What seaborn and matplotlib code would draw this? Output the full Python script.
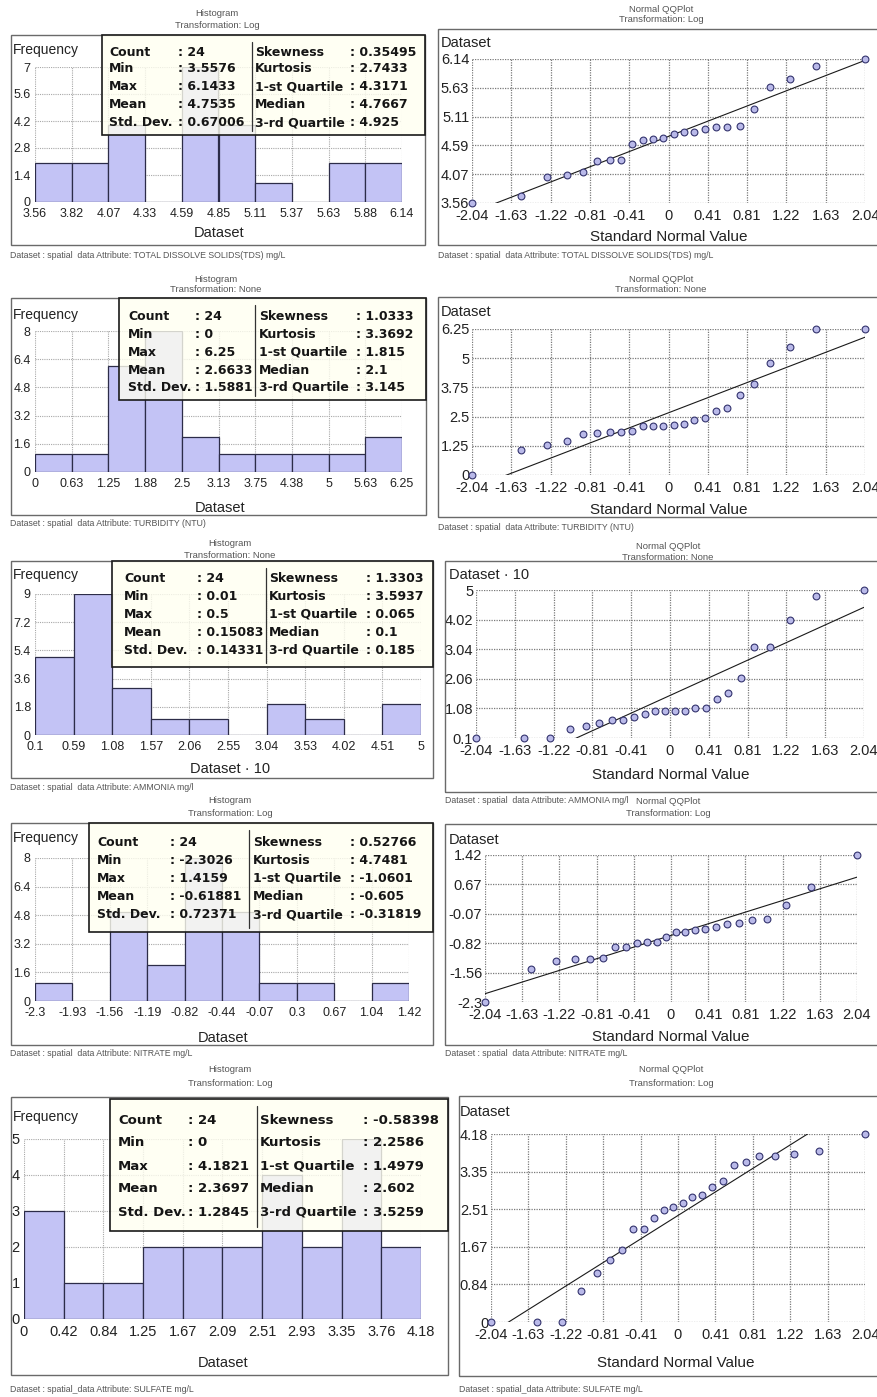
import numpy as np
import matplotlib
matplotlib.use("Agg")
import matplotlib.pyplot as plt
from matplotlib.patches import Rectangle
from matplotlib.lines import Line2D
import seaborn as sns

sns.set_style("white")
plt.rcParams['font.family'] = ['DejaVu Sans']

W, H = 878, 1397

# ---------------- data ----------------
z_quantiles = [-2.037, -1.534, -1.259, -1.054, -0.887, -0.742, -0.611, -0.489, -0.374, -0.264, -0.157, -0.052,
               0.052, 0.157, 0.264, 0.374, 0.489, 0.611, 0.742, 0.887, 1.054, 1.259, 1.534, 2.037]

tds_log = [3.5576, 3.68, 4.02, 4.056, 4.116, 4.309, 4.325, 4.325, 4.623, 4.689, 4.707, 4.725,
           4.797, 4.838, 4.838, 4.892, 4.916, 4.916, 4.934, 5.245, 5.639, 5.776, 6.009, 6.1433]
turbidity = [0.0, 1.056, 1.284, 1.47, 1.755, 1.80, 1.83, 1.84, 1.90, 2.08, 2.08, 2.08,
             2.12, 2.17, 2.35, 2.45, 2.74, 2.88, 3.41, 3.91, 4.78, 5.47, 6.24, 6.25]
ammonia_x10 = [0.1, 0.1, 0.1, 0.4, 0.5, 0.6, 0.7, 0.7, 0.8, 0.9, 1.0, 1.0,
               1.0, 1.0, 1.1, 1.1, 1.4, 1.6, 2.1, 3.1, 3.1, 4.0, 4.8, 5.0]
nitrate_log = [-2.3026, -1.458, -1.256, -1.223, -1.206, -1.197, -0.923, -0.903, -0.810, -0.793, -0.793, -0.67,
               -0.541, -0.532, -0.490, -0.465, -0.406, -0.34, -0.296, -0.238, -0.212, 0.141, 0.596, 1.4159]
sulfate_log = [0.0, 0.0, 0.0, 0.6931, 1.0986, 1.3863, 1.6094, 2.0794, 2.0794, 2.3026, 2.4849, 2.5649,
               2.6391, 2.7726, 2.8332, 2.9957, 3.1355, 3.4965, 3.5553, 3.6889, 3.6889, 3.7377, 3.8067, 4.1821]

datasets = [tds_log, turbidity, ammonia_x10, nitrate_log, sulfate_log]
data_min = [3.5576, 0.0, 0.1, -2.3026, 0.0]
data_max = [6.1433, 6.25, 5.0, 1.4159, 4.1821]
line_mean = [4.7535, 2.6633, 1.5083, -0.61881, 2.3697]
line_sd = [0.67006, 1.5881, 1.4331, 0.72371, 1.2845]
hist_ymax = [7, 8, 9, 8, 5]

hist_xticklabels = [
    ['3.56', '3.82', '4.07', '4.33', '4.59', '4.85', '5.11', '5.37', '5.63', '5.88', '6.14'],
    ['0', '0.63', '1.25', '1.88', '2.5', '3.13', '3.75', '4.38', '5', '5.63', '6.25'],
    ['0.1', '0.59', '1.08', '1.57', '2.06', '2.55', '3.04', '3.53', '4.02', '4.51', '5'],
    ['-2.3', '-1.93', '-1.56', '-1.19', '-0.82', '-0.44', '-0.07', '0.3', '0.67', '1.04', '1.42'],
    ['0', '0.42', '0.84', '1.25', '1.67', '2.09', '2.51', '2.93', '3.35', '3.76', '4.18'],
]
hist_yticklabels = [
    ['0', '1.4', '2.8', '4.2', '5.6', '7'],
    ['0', '1.6', '3.2', '4.8', '6.4', '8'],
    ['0', '1.8', '3.6', '5.4', '7.2', '9'],
    ['0', '1.6', '3.2', '4.8', '6.4', '8'],
    ['0', '1', '2', '3', '4', '5'],
]
qq_xticklabels = ['-2.04', '-1.63', '-1.22', '-0.81', '-0.41', '0', '0.41', '0.81', '1.22', '1.63', '2.04']
qq_yticklabels = [
    ['3.56', '4.07', '4.59', '5.11', '5.63', '6.14'],
    ['0', '1.25', '2.5', '3.75', '5', '6.25'],
    ['0.1', '1.08', '2.06', '3.04', '4.02', '5'],
    ['-2.3', '-1.56', '-0.82', '-0.07', '0.67', '1.42'],
    ['0', '0.84', '1.67', '2.51', '3.35', '4.18'],
]
transformations = ['Log', 'None', 'None', 'Log', 'Log']
value_axis_labels = ['Dataset', 'Dataset', 'Dataset \u00b7 10', 'Dataset', 'Dataset']
captions = [
    'Dataset : spatial  data Attribute: TOTAL DISSOLVE SOLIDS(TDS) mg/L',
    'Dataset : spatial  data Attribute: TURBIDITY (NTU)',
    'Dataset : spatial  data Attribute: AMMONIA mg/l',
    'Dataset : spatial  data Attribute: NITRATE mg/L',
    'Dataset : spatial_data Attribute: SULFATE mg/L',
]
stat_names_left = ['Count', 'Min', 'Max', 'Mean', 'Std. Dev.']
stat_names_right = ['Skewness', 'Kurtosis', '1-st Quartile', 'Median', '3-rd Quartile']
stat_values_left = [
    ['24', '3.5576', '6.1433', '4.7535', '0.67006'],
    ['24', '0', '6.25', '2.6633', '1.5881'],
    ['24', '0.01', '0.5', '0.15083', '0.14331'],
    ['24', '-2.3026', '1.4159', '-0.61881', '0.72371'],
    ['24', '0', '4.1821', '2.3697', '1.2845'],
]
stat_values_right = [
    ['0.35495', '2.7433', '4.3171', '4.7667', '4.925'],
    ['1.0333', '3.3692', '1.815', '2.1', '3.145'],
    ['1.3303', '3.5937', '0.065', '0.1', '0.185'],
    ['0.52766', '4.7481', '-1.0601', '-0.605', '-0.31819'],
    ['-0.58398', '2.2586', '1.4979', '2.602', '3.5259'],
]

# ---------------- layout (pixels) ----------------
hist_layout = [
    dict(frame=(11, 35, 425, 245), ax=(35, 67, 402, 202), freq=(13, 50), xlab=(219, 233), title=(217, 14, 25),
         cap=(10, 255), box=(102, 35, 425, 135), cols=(109, 178, 252, 255, 350), rows=[52, 69, 87, 104, 123], fs=9,
         tfs=9),
    dict(frame=(11, 298, 426, 515), ax=(35, 331, 402, 472), freq=(13, 315), xlab=(220, 508), title=(216, 280, 290),
         cap=(10, 524), box=(119, 298, 426, 400), cols=(128, 195, 255, 259, 356), rows=[317, 335, 352, 370, 387],
         fs=9, tfs=9),
    dict(frame=(11, 561, 433, 778), ax=(35, 594, 421, 735), freq=(13, 575), xlab=(230, 769), title=(230, 544, 555),
         cap=(10, 788), box=(112, 561, 433, 667), cols=(124, 197, 266, 269, 366), rows=[578, 597, 614, 632, 650],
         fs=9, tfs=9),
    dict(frame=(11, 823, 433, 1045), ax=(35, 858, 409, 1001), freq=(13, 838), xlab=(223, 1038),
         title=(230, 800, 813), cap=(10, 1054), box=(89, 823, 433, 932), cols=(97, 170, 249, 253, 350),
         rows=[842, 860, 878, 897, 915], fs=9, tfs=9),
    dict(frame=(11, 1097, 448, 1375), ax=(24, 1139, 421, 1319), freq=(13, 1117), xlab=(223, 1363),
         title=(230, 1070, 1084), cap=(10, 1390), box=(110, 1099, 448, 1231), cols=(118, 188, 257, 260, 363),
         rows=[1120, 1143, 1166, 1189, 1212], fs=9.5, tfs=10.5),
]
qq_layout = [
    dict(frame=(438, 29, 890, 245), ax=(472, 59, 865, 203), ylab=(441, 43), xlab=(669, 237), title=(661, 9, 20),
         cap=(438, 255)),
    dict(frame=(438, 297, 890, 517), ax=(472, 329, 865, 475), ylab=(441, 312), xlab=(669, 510),
         title=(661, 280, 290), cap=(438, 527)),
    dict(frame=(445, 561, 890, 792), ax=(476, 590, 864, 738), ylab=(449, 575), xlab=(671, 775),
         title=(668, 547, 558), cap=(445, 800)),
    dict(frame=(445, 824, 890, 1045), ax=(485, 855, 857, 1002), ylab=(449, 840), xlab=(671, 1037),
         title=(668, 802, 813), cap=(445, 1054)),
    dict(frame=(459, 1096, 890, 1376), ax=(491, 1134, 865, 1322), ylab=(460, 1112), xlab=(676, 1363),
         title=(671, 1069, 1083), cap=(459, 1390)),
]

BAR = '#c3c3f5'
BAR_EDGE = '#2c2c48'
PT = '#b9b9e9'
PT_EDGE = '#34346e'
GRID = '#a8a8a8'
QGRID = '#7a7a7a'
TXT = '#222222'
GRAY = '#555555'
FRAME = '#6a6a6a'
TF = 'Liberation Sans'

fig = plt.figure(figsize=(W / 100, H / 100), dpi=100)
fig.patch.set_facecolor('white')


def add_ax(x0, y0, x1, y1):
    return fig.add_axes([x0 / W, 1 - y1 / H, (x1 - x0) / W, (y1 - y0) / H])


def ftext(x, y, s, **kw):
    return fig.text(x / W, 1 - y / H, s, **kw)


def frame(x0, y0, x1, y1, **kw):
    r = Rectangle((x0 / W, 1 - y1 / H), (x1 - x0) / W, (y1 - y0) / H, transform=fig.transFigure, **kw)
    fig.add_artist(r)
    return r


def vline(x, y0, y1, **kw):
    fig.add_artist(Line2D([x / W, x / W], [1 - y0 / H, 1 - y1 / H], transform=fig.transFigure, **kw))


for i in range(5):
    data = datasets[i]
    lo, hi = data_min[i], data_max[i]
    # ---------------- Histogram ----------------
    L = hist_layout[i]
    frame(*L['frame'], fill=False, edgecolor=FRAME, lw=1.0, zorder=0.5)
    ax = add_ax(*L['ax'])
    sns.histplot(x=data, bins=10, binrange=(lo, hi), ax=ax, color=BAR, edgecolor=BAR_EDGE,
                 linewidth=0.9, alpha=1.0, zorder=2)
    ax.set_xlim(lo, hi)
    ax.set_ylim(0, hist_ymax[i])
    ax.set_xticks(np.linspace(lo, hi, 11))
    ax.set_xticklabels(hist_xticklabels[i], fontsize=L['tfs'], family=TF, color=TXT)
    ax.set_yticks(np.linspace(0, hist_ymax[i], 6))
    ax.set_yticklabels(hist_yticklabels[i], fontsize=L['tfs'], family=TF, color=TXT)
    ax.tick_params(axis='x', length=0, pad=4.5)
    ax.tick_params(axis='y', length=0, pad=3)
    ax.grid(True, color=GRID, linestyle=(0, (1, 1)), lw=0.8)
    ax.set_axisbelow(True)
    for s in ax.spines.values():
        s.set_visible(False)
    ax.set_xlabel('')
    ax.set_ylabel('')
    ax.patch.set_alpha(0)
    ftext(L['freq'][0], L['freq'][1], 'Frequency', fontsize=10, family=TF, color=TXT, ha='left', va='center')
    ftext(L['xlab'][0], L['xlab'][1], value_axis_labels[i], fontsize=10.5, family=TF, color=TXT,
          ha='center', va='center')
    tx, ty1, ty2 = L['title']
    ftext(tx, ty1, 'Histogram', fontsize=6.8, family=TF, color=GRAY, ha='center', va='center')
    ftext(tx, ty2, 'Transformation: ' + transformations[i], fontsize=6.8, family=TF, color=GRAY,
          ha='center', va='center')
    ftext(L['cap'][0], L['cap'][1], captions[i], fontsize=6.3, family=TF, color=GRAY, ha='left', va='center')

    # statistics box
    bx0, by0, bx1, by1 = L['box']
    frame(bx0, by0, bx1, by1, facecolor='#fffff0', alpha=0.8, edgecolor='none', zorder=5)
    frame(bx0, by0, bx1, by1, fill=False, edgecolor='#1a1a1a', lw=1.2, zorder=6)
    c1, c2, sep, c3, c4 = L['cols']
    vline(sep, by0 + 7, by1 - 4, color='#333333', lw=0.9, zorder=7)
    for r, yy in enumerate(L['rows']):
        kw = dict(fontsize=L['fs'], fontweight='bold', color='#151515', va='center', ha='left', zorder=8)
        ftext(c1, yy, stat_names_left[r], **kw)
        ftext(c2, yy, ': ' + stat_values_left[i][r], **kw)
        ftext(c3, yy, stat_names_right[r], **kw)
        ftext(c4, yy, ': ' + stat_values_right[i][r], **kw)

    # ---------------- Normal QQ plot ----------------
    Q = qq_layout[i]
    frame(*Q['frame'], fill=False, edgecolor=FRAME, lw=1.0, zorder=0.5)
    qa = add_ax(*Q['ax'])
    zlo, zhi = z_quantiles[0], z_quantiles[-1]
    zz = np.array([zlo, zhi])
    qa.plot(zz, line_mean[i] + line_sd[i] * zz, color='#1a1a1a', lw=0.8, zorder=2)
    sns.scatterplot(x=z_quantiles, y=data, ax=qa, s=24, color=PT, edgecolor=PT_EDGE, linewidth=0.8,
                    zorder=3, clip_on=False)
    qa.set_xlim(zlo, zhi)
    qa.set_ylim(lo, hi)
    qa.set_xticks(np.linspace(zlo, zhi, 11))
    qa.set_xticklabels(qq_xticklabels, fontsize=10.5, family=TF, color=TXT)
    qa.set_yticks(np.linspace(lo, hi, 6))
    qa.set_yticklabels(qq_yticklabels[i], fontsize=10.5, family=TF, color=TXT)
    qa.tick_params(axis='x', length=0, pad=4)
    qa.tick_params(axis='y', length=0, pad=2)
    qa.grid(True, color=QGRID, linestyle=(0, (1, 1)), lw=0.9)
    qa.set_axisbelow(True)
    for s in qa.spines.values():
        s.set_visible(False)
    qa.set_xlabel('')
    qa.set_ylabel('')
    ftext(Q['ylab'][0], Q['ylab'][1], value_axis_labels[i], fontsize=10.5, family=TF, color=TXT,
          ha='left', va='center')
    ftext(Q['xlab'][0], Q['xlab'][1], 'Standard Normal Value', fontsize=11, family=TF, color=TXT,
          ha='center', va='center')
    tx, ty1, ty2 = Q['title']
    ftext(tx, ty1, 'Normal QQPlot', fontsize=6.8, family=TF, color=GRAY, ha='center', va='center')
    ftext(tx, ty2, 'Transformation: ' + transformations[i], fontsize=6.8, family=TF, color=GRAY,
          ha='center', va='center')
    ftext(Q['cap'][0], Q['cap'][1], captions[i], fontsize=6.3, family=TF, color=GRAY, ha='left', va='center')

fig.savefig('out.png', dpi=100)
